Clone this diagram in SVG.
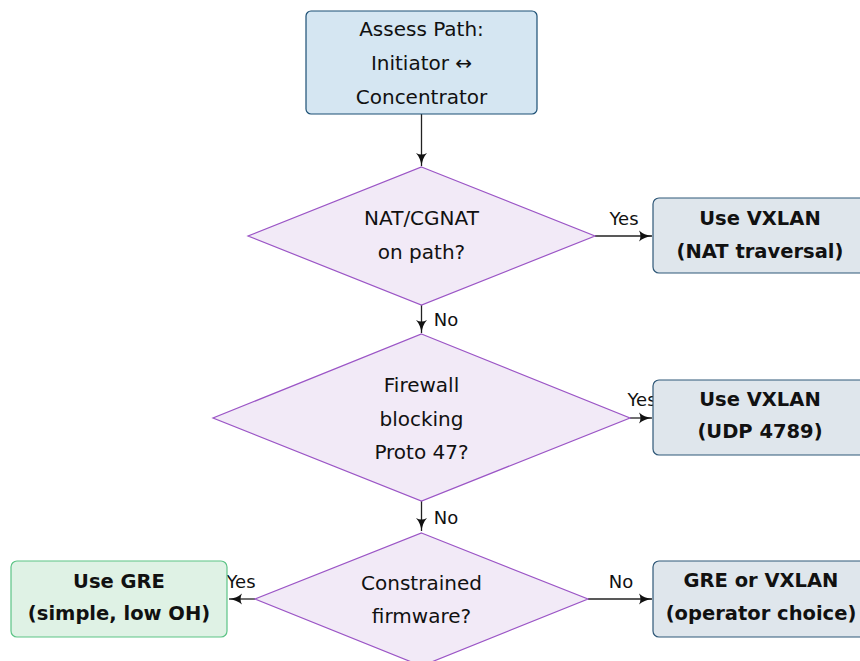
<svg xmlns="http://www.w3.org/2000/svg" width="860" height="661" viewBox="0 0 860 661">
  <defs>
    <marker id="arrow" viewBox="0 0 14 12" refX="13" refY="6" markerWidth="14" markerHeight="12" markerUnits="userSpaceOnUse" orient="auto">
      <path d="M0,0.5 Q5,5 13,6 Q5,7 0,11.5 Q3,6 0,0.5 Z" fill="#111"/>
    </marker>
    <style>
      text { font-family: "DejaVu Sans", "Liberation Sans", sans-serif; fill: #111; text-anchor: middle; }
      .t { font-size: 20px; }
      .b { font-size: 19.5px; font-weight: bold; }
      .lbl { font-size: 18px; }
      .start { fill: #d5e6f2; stroke: #1b4f74; stroke-width: 1.2; }
      .dec { fill: #f2eaf7; stroke: #9b55c6; stroke-width: 1.2; }
      .res { fill: #dfe6ec; stroke: #2f5878; stroke-width: 1.2; }
      .gre { fill: #dff2e5; stroke: #5cc486; stroke-width: 1.2; }
      .edge { stroke: #222; stroke-width: 1.3; fill: none; marker-end: url(#arrow); }
    </style>
  </defs>

  <!-- connectors -->
  <g id="edges">
    <line class="edge" x1="421.5" y1="114" x2="421.5" y2="166"/>
    <line class="edge" x1="595" y1="236" x2="652" y2="236"/>
    <text class="lbl" x="624" y="225">Yes</text>
    <line class="edge" x1="421.5" y1="305" x2="421.5" y2="333"/>
    <text class="lbl" x="446" y="326">No</text>
    <line class="edge" x1="630" y1="418" x2="652" y2="418"/>
    <text class="lbl" x="642" y="406">Yes</text>
    <line class="edge" x1="421.5" y1="501" x2="421.5" y2="531"/>
    <text class="lbl" x="446" y="524">No</text>
    <line class="edge" x1="255" y1="599" x2="229" y2="599"/>
    <text class="lbl" x="241" y="588">Yes</text>
    <line class="edge" x1="588" y1="599" x2="652" y2="599"/>
    <text class="lbl" x="621" y="588">No</text>
  </g>

  <g id="assess">
    <rect class="start" x="306" y="11" width="231" height="103" rx="5"/>
    <text class="t" x="421.5" y="36">Assess Path:</text>
    <text class="t" x="421.5" y="70">Initiator ↔</text>
    <text class="t" x="421.5" y="104">Concentrator</text>
  </g>

  <g id="nat">
    <polygon class="dec" points="421.5,167 595,236 421.5,305 248,236"/>
    <text class="t" x="421.5" y="225">NAT/CGNAT</text>
    <text class="t" x="421.5" y="259">on path?</text>
  </g>

  <g id="vxlan-nat">
    <rect class="res" x="653" y="198" width="214" height="75" rx="6"/>
    <text class="b" x="760" y="225">Use VXLAN</text>
    <text class="b" x="760" y="258">(NAT traversal)</text>
  </g>

  <g id="firewall">
    <polygon class="dec" points="421.5,334 630,418 421.5,501 213,418"/>
    <text class="t" x="421.5" y="392">Firewall</text>
    <text class="t" x="421.5" y="426">blocking</text>
    <text class="t" x="421.5" y="459">Proto 47?</text>
  </g>

  <g id="vxlan-udp">
    <rect class="res" x="653" y="380" width="214" height="75" rx="6"/>
    <text class="b" x="760" y="406">Use VXLAN</text>
    <text class="b" x="760" y="438">(UDP 4789)</text>
  </g>

  <g id="firmware">
    <polygon class="dec" points="421.5,533 588,599 421.5,666 255,599"/>
    <text class="t" x="421.5" y="590">Constrained</text>
    <text class="t" x="421.5" y="623">firmware?</text>
  </g>

  <g id="gre">
    <rect class="gre" x="11" y="561" width="216" height="76" rx="6"/>
    <text class="b" x="119" y="588">Use GRE</text>
    <text class="b" x="119" y="620">(simple, low OH)</text>
  </g>

  <g id="choice">
    <rect class="res" x="653" y="561" width="214" height="76" rx="6"/>
    <text class="b" x="761" y="587">GRE or VXLAN</text>
    <text class="b" x="761" y="620">(operator choice)</text>
  </g>
</svg>
